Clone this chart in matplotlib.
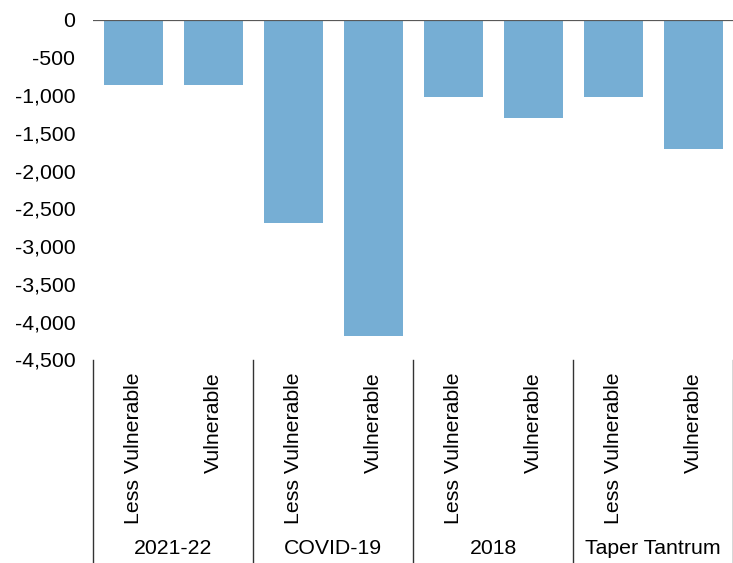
import matplotlib
matplotlib.use("Agg")
import matplotlib.pyplot as plt
from matplotlib.ticker import FuncFormatter, MultipleLocator
from matplotlib.lines import Line2D
import matplotlib.transforms as mtransforms

plt.rcParams['font.family'] = ['Liberation Sans', 'DejaVu Sans']

groups = ["2021-22", "COVID-19", "2018", "Taper Tantrum"]
subcats = ["Less Vulnerable", "Vulnerable"]
values = [-862, -862, -2690, -4190, -1030, -1310, -1030, -1712]

W, H = 733, 563
fig = plt.figure(figsize=(W / 100, H / 100), dpi=100)
left, right = 93.3 / W, 733.3 / W
top_px, bot_px = 19.5, 359.3
ax = fig.add_axes([left, 1 - bot_px / H, right - left, (bot_px - top_px) / H])

n = len(values)
x = list(range(n))
ax.bar(x, values, width=0.74, color="#76aed4", zorder=2)
ax.set_xlim(-0.5, n - 0.5)
ax.set_ylim(-4500, 0)
ax.yaxis.set_major_locator(MultipleLocator(500))
ax.yaxis.set_major_formatter(FuncFormatter(lambda v, p: f"{v:,.0f}".replace("\u2212", "-")))
ax.tick_params(axis="y", length=0, pad=13, labelsize=15.3)
ax.set_xticks([])
for s in ax.spines.values():
    s.set_visible(False)
ax.axhline(0, color="#595959", lw=1.6, zorder=3)

trans = mtransforms.blended_transform_factory(ax.transData, ax.transAxes)
ah = bot_px - top_px
lab_y = (bot_px - 372) / ah
grp_y = (bot_px - 548) / ah
line_bot = (bot_px - 563) / ah
line_top = (bot_px - 360) / ah

for i in range(n):
    ax.text(i, lab_y, subcats[i % 2], rotation=90, ha="center", va="top",
            fontsize=15.3, transform=trans)
for g, name in enumerate(groups):
    ax.text(2 * g + 0.5, grp_y, name, ha="center", va="center", fontsize=15.3,
            transform=trans)
for b in range(len(groups) + 1):
    xb = 2 * b - 0.5
    ax.add_line(Line2D([xb, xb], [line_top, line_bot], color="#333333", lw=1.0,
                       transform=trans, clip_on=False))

fig.savefig("out.png", dpi=100)
